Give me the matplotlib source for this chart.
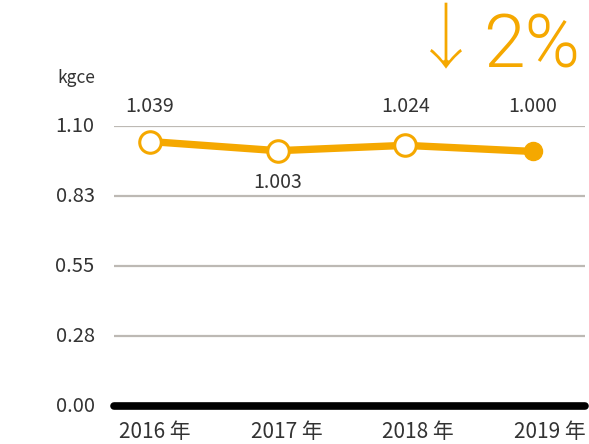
import matplotlib
matplotlib.use("Agg")
import matplotlib.pyplot as plt
import matplotlib.patheffects as pe

plt.rcParams['font.family'] = ['Noto Sans CJK SC', 'DejaVu Sans']

years = ["2016 年", "2017 年", "2018 年", "2019 年"]
values = [1.039, 1.003, 1.024, 1.000]
value_labels = ["1.039", "1.003", "1.024", "1.000"]
yticks = [0.0, 0.275, 0.55, 0.825, 1.10]
ytick_labels = ["0.00", "0.28", "0.55", "0.83", "1.10"]
unit = "kgce"
change_text = "2%"

ORANGE = "#F5A800"
GRID = "#BDB9B4"
TEXT = "#333333"

W, H = 589, 444
fig = plt.figure(figsize=(W/100, H/100), dpi=100)
ax = fig.add_axes([114/W, (H-406)/H, (585-114)/W, 280/H])
ax.set_xlim(-0.282, 3.407)
ax.set_ylim(0, 1.10)
for s in ax.spines.values():
    s.set_visible(False)
ax.set_xticks([])
ax.set_yticks([])

xs = list(range(len(values)))
for yt, lab in zip(yticks, ytick_labels):
    if yt == 0:
        ax.plot([-0.282, 3.407], [0, 0], color="black", lw=5.5, solid_capstyle="round", clip_on=False, zorder=3)
    else:
        ax.axhline(yt, color=GRID, lw=1.6, zorder=1)
    ax.annotate(lab, (-0.282, yt), xytext=(-14, 0), textcoords="offset points",
                ha="right", va="center", fontsize=14.5, color=TEXT, annotation_clip=False)

ax.plot(xs, values, color=ORANGE, lw=5.3, zorder=4, clip_on=False)
ax.plot(xs[:-1], values[:-1], 'o', ms=15.5, mfc="white", mec=ORANGE, mew=2.2, zorder=5, clip_on=False)
ax.plot(xs[-1:], values[-1:], 'o', ms=13, mfc=ORANGE, mec=ORANGE, zorder=5, clip_on=False)

top_y = 1.175
for x, v, lab in zip(xs, values, value_labels):
    if lab == "1.003":
        ax.annotate(lab, (x, v), xytext=(0, -23), textcoords="offset points",
                    ha="center", va="center", fontsize=14, color=TEXT)
    else:
        ax.text(x, top_y, lab, ha="center", va="center", fontsize=14, color=TEXT, clip_on=False)

# category labels evenly spread slightly wider than the points
for x, lab in zip(xs, years):
    ax.annotate(lab, (x * 1.0313 + 0.039, 0), xytext=(0, -19), textcoords="offset points",
                ha="center", va="center", fontsize=15, color=TEXT, annotation_clip=False)

fig.text(95/W, 1-78/H, unit, ha="right", va="center", fontsize=12.5, color=TEXT)
arrow = fig.text(446/W, 1-43/H, "↓", ha="center", va="center", fontsize=54, color=ORANGE,
                 family=["Noto Sans CJK SC", "DejaVu Sans"])
arrow.set_path_effects([pe.Stroke(linewidth=1.7, foreground="white")])
fig.text(483/W, 1-67/H, change_text, ha="left", va="baseline", fontsize=54, color=ORANGE,
         family=["Roboto", "DejaVu Sans"], fontweight=300)

fig.savefig("out.png", dpi=100)
